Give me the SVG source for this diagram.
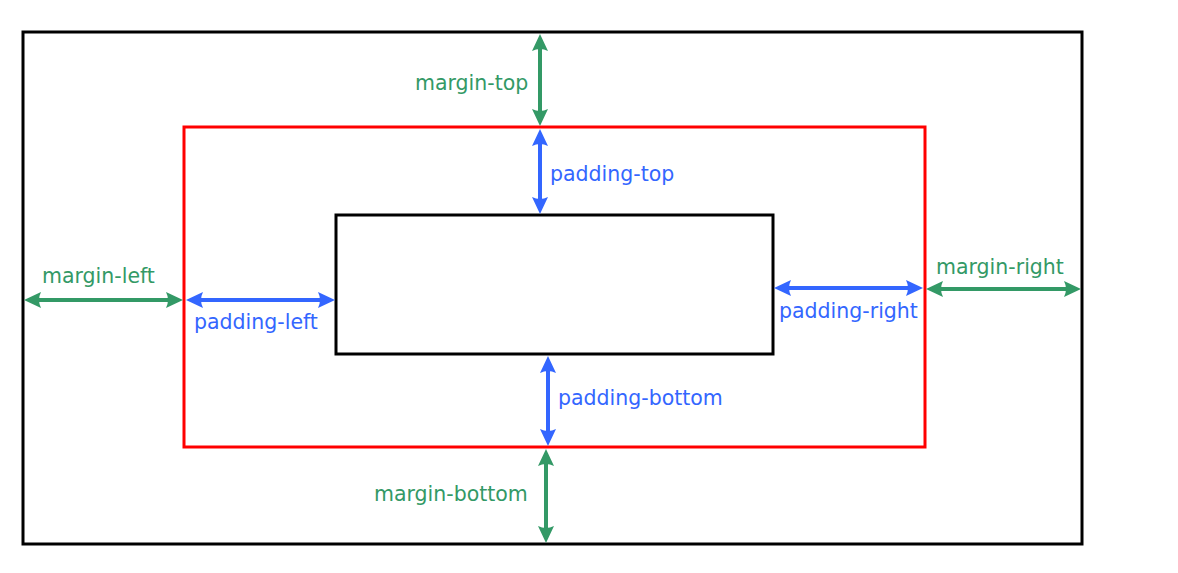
<svg xmlns="http://www.w3.org/2000/svg" width="1178" height="573" viewBox="0 0 1178 573">
<style>
.box{fill:none;stroke:#000;stroke-width:3}
.red{fill:none;stroke:#ff0000;stroke-width:3}
.m{stroke:#339966;stroke-width:4;fill:none}
.p{stroke:#3366ff;stroke-width:4;fill:none}
text{font-family:"DejaVu Sans",Verdana,sans-serif;font-size:20.5px}
.mt{fill:#339966}
.pt{fill:#3366ff}
</style>
<defs>
<marker id="ag" markerUnits="userSpaceOnUse" markerWidth="18" markerHeight="16" refX="8" refY="8" orient="auto-start-reverse" viewBox="0 0 18 16">
<path d="M0,0 L17,8 L0,16 Q4,8 0,0 z" fill="#339966"/>
</marker>
<marker id="ab" markerUnits="userSpaceOnUse" markerWidth="18" markerHeight="16" refX="8" refY="8" orient="auto-start-reverse" viewBox="0 0 18 16">
<path d="M0,0 L17,8 L0,16 Q4,8 0,0 z" fill="#3366ff"/>
</marker>
</defs>
<rect width="1178" height="573" fill="#fff"/>
<g id="margin-box"><rect class="box" x="23" y="32" width="1059" height="512"/></g>
<g id="border-box"><rect class="red" x="184" y="127" width="741" height="320"/></g>
<g id="content-box"><rect class="box" x="336" y="215" width="437" height="139"/></g>
<g id="connectors">
<line class="m" x1="540" y1="43" x2="540" y2="117" marker-start="url(#ag)" marker-end="url(#ag)"/>
<line class="p" x1="540" y1="138" x2="540" y2="205" marker-start="url(#ab)" marker-end="url(#ab)"/>
<line class="m" x1="33" y1="300" x2="174" y2="300" marker-start="url(#ag)" marker-end="url(#ag)"/>
<line class="p" x1="195" y1="300" x2="326" y2="300" marker-start="url(#ab)" marker-end="url(#ab)"/>
<line class="p" x1="783" y1="288" x2="914" y2="288" marker-start="url(#ab)" marker-end="url(#ab)"/>
<line class="m" x1="935" y1="289" x2="1072" y2="289" marker-start="url(#ag)" marker-end="url(#ag)"/>
<line class="p" x1="548" y1="365" x2="548" y2="437" marker-start="url(#ab)" marker-end="url(#ab)"/>
<line class="m" x1="546" y1="458" x2="546" y2="534" marker-start="url(#ag)" marker-end="url(#ag)"/>
</g>
<g id="labels">
<text class="mt" x="415" y="90">margin-top</text>
<text class="pt" x="550" y="181">padding-top</text>
<text class="mt" x="42" y="283">margin-left</text>
<text class="pt" x="194" y="329">padding-left</text>
<text class="pt" x="779" y="318">padding-right</text>
<text class="mt" x="936" y="274">margin-right</text>
<text class="pt" x="558" y="405">padding-bottom</text>
<text class="mt" x="374" y="501">margin-bottom</text>
</g>
</svg>
